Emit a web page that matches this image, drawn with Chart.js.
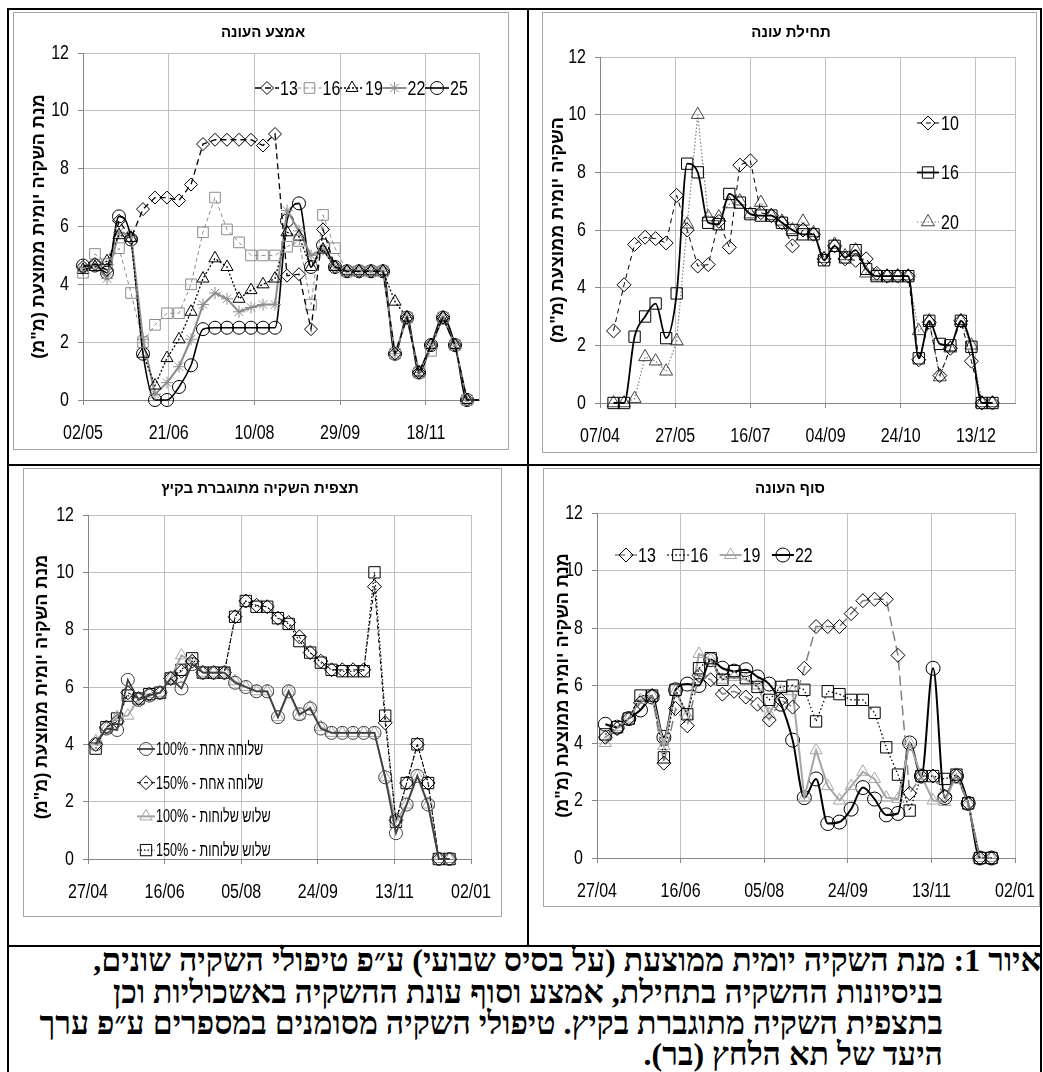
<!DOCTYPE html>
<html lang="he">
<head>
<meta charset="utf-8">
<title>מנת השקיה יומית ממוצעת</title>
<script src="https://cdn.jsdelivr.net/npm/chart.js@4.4.1/dist/chart.umd.min.js"></script>
<style>
  body { margin: 0; background: #fff; width: 1043px; height: 1072px; position: relative; overflow: hidden; }
  .rule { position: absolute; background: #000; }
  canvas { position: absolute; }
  .cap {
    position: absolute; direction: rtl; white-space: nowrap; color: #000;
    font: bold 32px "Liberation Serif", "DejaVu Sans", serif; line-height: 31px; height: 31px;
  }
</style>
</head>
<body>
<div class="rule" style="left:7px;top:8px;width:1035px;height:2px"></div>
<div class="rule" style="left:7px;top:8px;width:2px;height:1070px"></div>
<div class="rule" style="left:1040px;top:8px;width:2px;height:1070px"></div>
<div class="rule" style="left:527px;top:8px;width:2px;height:939px"></div>
<div class="rule" style="left:7px;top:464px;width:1035px;height:2px"></div>
<div class="rule" style="left:7px;top:945px;width:1035px;height:2px"></div>

<canvas id="midChart" width="496" height="438" dir="rtl" style="left:13px;top:12px"></canvas>
<canvas id="earlyChart" width="495" height="441" dir="rtl" style="left:542px;top:12px"></canvas>
<canvas id="summerChart" width="479" height="449" dir="rtl" style="left:23px;top:468px"></canvas>
<canvas id="lateChart" width="497" height="439" dir="rtl" style="left:543px;top:468px"></canvas>

<div class="cap" style="right:2px;top:945px">איור 1: מנת השקיה יומית ממוצעת (על בסיס שבועי) ע״פ טיפולי השקיה שונים,</div>
<div class="cap" style="right:100px;top:977px">בניסיונות ההשקיה בתחילת, אמצע וסוף עונת ההשקיה באשכוליות וכן</div>
<div class="cap" style="right:100px;top:1008px">בתצפית השקיה מתוגברת בקיץ. טיפולי השקיה מסומנים במספרים ע״פ ערך</div>
<div class="cap" style="right:100px;top:1039px">היעד של תא הלחץ (בר).</div>

<script>
// ---- data: x = day of year, one point per week ----

// אמצע העונה
const midStartDay = 122;
const midTickDays = [122, 172, 222, 272, 322];
const midTickLabels = ['02/05', '21/06', '10/08', '29/09', '18/11'];
const mid13 = [4.6, 4.7, 4.5, 6.2, 5.6, 6.6, 7.0, 7.0, 6.9, 7.45, 8.85, 9.0, 9.0, 9.0, 9.0, 8.8, 9.2,
  4.3, 4.35, 2.45, 5.9, 4.6, 4.45, 4.45, 4.45, 4.45, 1.6, 2.85, 0.95, 1.9, 2.85, 1.9, 0, 0];
const mid16 = [4.4, 5.05, 4.7, 5.25, 3.7, 2.0, 2.6, 3.0, 3.0, 4.0, 5.8, 7.0, 5.9, 5.45, 5.0, 5.0, 5.0,
  5.3, 5.5, 3.3, 6.4, 5.25, 4.45, 4.45, 4.45, 4.45, 1.6, 2.85, 0.95, 1.7, 2.85, 1.9, 0, 0];
const mid19 = [4.5, 4.6, 4.8, 5.7, 5.6, 1.6, 0.5, 1.45, 2.1, 3.05, 4.2, 4.9, 4.6, 3.5, 3.8, 4.0, 4.2,
  5.8, 5.65, 4.6, 5.2, 4.6, 4.45, 4.45, 4.45, 4.45, 3.4, 2.85, 0.95, 1.9, 2.85, 1.9, 0, 0];
const mid22 = [4.5, 4.7, 4.2, 5.8, 5.7, 2.1, 0.2, 0.6, 1.15, 2.1, 3.3, 3.7, 3.5, 3.05, 3.2, 3.3, 3.3,
  6.55, 5.85, 5.0, 5.2, 4.6, 4.45, 4.45, 4.45, 4.45, 1.6, 2.85, 0.95, 1.9, 2.85, 1.9, 0, 0];
const mid25 = [4.65, 4.65, 4.4, 6.35, 5.55, 1.6, 0, 0, 0.45, 1.2, 2.45, 2.5, 2.5, 2.5, 2.5, 2.5, 2.5,
  6.2, 6.8, 4.6, 5.35, 4.6, 4.45, 4.45, 4.45, 4.45, 1.6, 2.85, 0.95, 1.9, 2.85, 1.9, 0, 0];

// תחילת עונה
const earlyStartDay = 106;
const earlyTickDays = [97, 147, 197, 247, 297, 347];
const earlyTickLabels = ['07/04', '27/05', '16/07', '04/09', '24/10', '13/12'];
const early10 = [2.5, 4.1, 5.5, 5.75, 5.7, 5.55, 7.2, 6.0, 4.75, 4.8, 6.3, 5.4, 8.25, 8.4, 6.6, 6.5, 6.25,
  5.45, 6.0, 5.85, 5.0, 5.45, 5.0, 4.95, 5.0, 4.5, 4.4, 4.4, 4.4, 1.5, 2.8, 0.95, 1.9, 2.85, 1.45, 0, 0];
const early16 = [0, 0, 2.3, 3.0, 3.45, 2.25, 3.8, 8.3, 8.0, 6.25, 6.2, 7.25, 6.95, 6.55, 6.5, 6.5, 6.25,
  6.0, 5.85, 5.85, 4.95, 5.45, 5.05, 5.3, 4.65, 4.4, 4.4, 4.4, 4.4, 1.55, 2.85, 2.05, 2.0, 2.85, 1.95, 0, 0];
const early20 = [0, 0, 0.15, 1.6, 1.45, 1.1, 2.15, 6.2, 10.0, 6.45, 6.45, 6.9, 7.0, 6.55, 6.95, 6.5, 6.3,
  6.0, 6.3, 5.9, 5.0, 5.5, 5.1, 5.3, 4.5, 4.4, 4.4, 4.4, 4.4, 2.5, 2.85, 0.9, 1.9, 2.85, 2.0, 0, 0];

// תצפית השקיה מתוגברת בקיץ
const summerStartDay = 122;
const lateTickDays = [117, 167, 217, 267, 317, 367];
const lateTickLabels = ['27/04', '16/06', '05/08', '24/09', '13/11', '02/01'];
const summerOne100 = [4.0, 4.55, 4.5, 6.25, 5.55, 5.7, 5.8, 6.3, 5.95, 6.8, 6.5, 6.5, 6.5, 6.15, 6.0, 5.85, 5.85,
  4.95, 5.85, 5.05, 5.25, 4.55, 4.4, 4.4, 4.4, 4.4, 4.4, 2.85, 0.9, 1.9, 2.9, 1.9, 0, 0];
const summerOne150 = [4.0, 4.6, 4.8, 5.8, 5.6, 5.75, 5.8, 6.3, 6.55, 6.9, 6.5, 6.5, 6.5, 8.45, 9.0, 8.85, 8.8,
  8.4, 8.25, 7.75, 7.2, 6.9, 6.6, 6.6, 6.6, 6.6, 9.5, 4.75, 1.35, 2.65, 4.0, 2.65, 0, 0];
const summerThree100 = [4.1, 4.55, 4.95, 5.0, 5.6, 5.75, 5.8, 6.3, 7.1, 6.9, 6.5, 6.5, 6.5, 6.2, 6.0, 5.85, 5.85,
  4.95, 5.85, 5.0, 5.3, 4.6, 4.4, 4.4, 4.4, 4.4, 4.4, 2.85, 1.3, 1.9, 2.9, 1.9, 0, 0];
const summerThree150 = [3.85, 4.6, 4.9, 5.7, 5.6, 5.75, 5.8, 6.3, 6.6, 7.0, 6.5, 6.5, 6.5, 8.45, 9.0, 8.8, 8.8,
  8.4, 8.2, 7.6, 7.2, 6.85, 6.6, 6.55, 6.55, 6.55, 10.0, 5.0, 1.3, 2.65, 4.0, 2.65, 0, 0];

// סוף העונה
const lateStartDay = 122;
const late13 = [4.2, 4.5, 4.85, 5.4, 5.65, 3.3, 5.2, 4.6, 6.35, 6.2, 5.7, 5.8, 5.6, 5.35, 4.8, 5.5, 5.25,
  6.6, 8.05, 8.05, 8.05, 8.5, 8.95, 9.0, 9.0, 7.05, 2.25, 2.85, 2.85, 2.15, 2.85, 1.9, 0, 0];
const late16 = [4.3, 4.55, 4.85, 5.65, 5.65, 3.5, 5.85, 5.0, 6.6, 6.95, 6.2, 6.5, 6.25, 5.95, 5.5, 5.95, 6.0,
  5.85, 4.75, 5.8, 5.7, 5.5, 5.5, 5.05, 3.85, 2.9, 1.65, 2.85, 2.85, 2.75, 2.9, 1.9, 0, 0];
const late19 = [4.0, 4.55, 4.85, 5.5, 5.65, 3.9, 5.8, 4.95, 7.1, 6.9, 6.2, 6.3, 6.2, 6.0, 5.0, 5.8, 5.8,
  2.1, 3.75, 2.5, 2.0, 2.5, 3.0, 2.75, 2.1, 2.05, 4.0, 2.85, 2.0, 1.95, 2.9, 1.9, 0, 0];
const late22 = [4.65, 4.55, 4.85, 5.15, 5.6, 4.2, 5.85, 6.05, 6.0, 6.9, 6.6, 6.5, 6.55, 6.3, 6.05, 5.35, 4.1,
  2.1, 2.75, 1.2, 1.25, 1.7, 2.45, 2.05, 1.5, 1.55, 4.0, 2.85, 6.6, 2.1, 2.85, 1.9, 0, 0];

const yTitle = 'מנת השקיה יומית ממוצעת (מ"מ)';
const plainFont = '"Liberation Sans", Arial, sans-serif';
const boldFont = '"Liberation Sans", "DejaVu Sans", Arial, sans-serif';
const NARROW = 0.8; // squeeze to look like Arial Narrow

function narrowText(ctx, text, x, y, align, squeeze) {
  ctx.save();
  ctx.translate(x, y);
  ctx.scale(squeeze, 1);
  ctx.textAlign = align;
  ctx.fillText(text, 0, 0);
  ctx.restore();
}

// draws the chart frame, plot border, tick labels, panel title and the in-plot legend
const panelDecor = {
  id: 'panelDecor',
  beforeDraw(chart) {
    const { ctx, width, height, chartArea: a } = chart;
    ctx.save();
    ctx.lineWidth = 1;
    ctx.strokeStyle = '#a6a6a6';
    ctx.strokeRect(0.5, 0.5, width - 1, height - 1);
    ctx.strokeStyle = '#bfbfbf';
    ctx.strokeRect(Math.round(a.left) + 0.5, Math.round(a.top) + 0.5, a.right - a.left, a.bottom - a.top);
    ctx.restore();
  },
  afterDraw(chart, args, opts) {
    const { ctx, chartArea: a } = chart;
    const xs = chart.scales.x;
    const ys = chart.scales.y;
    ctx.save();
    ctx.fillStyle = '#000';
    ctx.textBaseline = 'middle';

    ctx.font = '20px ' + plainFont;
    xs.ticks.forEach((t) => {
      narrowText(ctx, opts.tickLabels[opts.tickDays.indexOf(t.value)], xs.getPixelForValue(t.value), a.bottom + 33, 'center', NARROW);
    });
    ys.ticks.forEach((t) => {
      narrowText(ctx, String(t.value), a.left - 14, ys.getPixelForValue(t.value), 'right', NARROW);
    });

    ctx.font = 'bold 15px ' + boldFont;
    ctx.textAlign = 'center';
    ctx.fillText(opts.title, opts.titleX, opts.titleY);

    const lg = opts.legend;
    chart.data.datasets.forEach((ds, i) => {
      const mx = lg.x + lg.dx * i;
      const my = lg.y + lg.dy * i;
      ctx.strokeStyle = ds.borderColor;
      ctx.lineWidth = ds.borderWidth;
      ctx.setLineDash(ds.borderDash);
      ctx.beginPath();
      ctx.moveTo(mx - lg.len / 2, my);
      ctx.lineTo(mx + lg.len / 2, my);
      ctx.stroke();
      ctx.setLineDash([]);
      ctx.strokeStyle = ds.pointBorderColor;
      ctx.fillStyle = 'rgba(0,0,0,0)';
      ctx.lineWidth = 1;
      Chart.helpers.drawPoint(ctx, { pointStyle: ds.pointStyle, radius: ds.markerSize, borderWidth: 1, rotation: 0 }, mx, my);
      ctx.fillStyle = '#000';
      ctx.font = lg.font;
      narrowText(ctx, ds.label, mx + lg.len / 2 + lg.gap, my + 1, 'left', lg.squeeze);
    });
    ctx.restore();
  }
};

function series(label, startDay, values, style, hideLast) {
  return {
    label,
    data: values.map((v, i) => ({ x: startDay + 7 * i, y: v })),
    borderColor: style.color,
    borderWidth: style.width,
    borderDash: style.dash || [],
    pointStyle: style.marker,
    markerSize: style.r,
    pointRadius: (c) => (hideLast && c.dataIndex === values.length - 1 ? 0 : style.r),
    pointBorderColor: style.markerColor || style.color,
    pointBackgroundColor: 'rgba(0,0,0,0)',
    pointBorderWidth: 1,
    cubicInterpolationMode: style.smooth ? 'monotone' : 'default',
    tension: 0,
    clip: { left: 12, top: 12, right: hideLast ? 0 : 12, bottom: 12 }
  };
}

function makeChart(id, cfg) {
  return new Chart(document.getElementById(id), {
    type: 'line',
    data: { datasets: cfg.datasets },
    plugins: [panelDecor],
    options: {
      responsive: false,
      animation: false,
      devicePixelRatio: 1,
      layout: { padding: { top: cfg.plot.top, right: cfg.plot.right, left: 0, bottom: 0 } },
      plugins: {
        legend: { display: false },
        tooltip: { enabled: false },
        panelDecor: {
          title: cfg.title, titleX: cfg.titleX, titleY: 21, legend: cfg.legend,
          tickDays: cfg.tickDays, tickLabels: cfg.tickLabels
        }
      },
      scales: {
        x: {
          type: 'linear',
          min: cfg.xMin,
          max: cfg.xMax,
          afterBuildTicks: (axis) => { axis.ticks = cfg.tickDays.map((v) => ({ value: v })); },
          afterFit: (axis) => { axis.height = cfg.plot.bottom; },
          ticks: { display: false },
          grid: { color: '#bfbfbf', tickColor: '#868686', tickLength: 5 },
          border: { color: '#868686' }
        },
        y: {
          min: 0,
          max: 12,
          afterFit: (axis) => { axis.width = cfg.plot.left; },
          ticks: { stepSize: 2, display: false },
          grid: { color: '#bfbfbf', tickColor: '#868686', tickLength: 5 },
          border: { color: '#868686' },
          title: {
            display: true, text: cfg.yTitle, color: '#000',
            font: { family: boldFont, size: 18, weight: 'bold' },
            padding: { top: cfg.yTitlePad, bottom: 0 }
          }
        }
      }
    }
  });
}

makeChart('midChart', {
  title: 'אמצע העונה', titleX: 250,
  plot: { left: 70, top: 41, right: 30, bottom: 50 },
  xMin: 122, xMax: 353, tickDays: midTickDays, tickLabels: midTickLabels,
  yTitle, yTitlePad: 15,
  legend: { x: 254, y: 76, dx: 42.5, dy: 0, len: 24, gap: 1, font: '20px ' + plainFont, squeeze: NARROW },
  datasets: [
    series('13', midStartDay, mid13, { color: '#000', width: 1.3, dash: [6, 4], marker: 'rectRot', r: 6.5 }, true),
    series('16', midStartDay, mid16, { color: '#8c8c8c', width: 1, dash: [4, 3], marker: 'rect', r: 7.5 }, true),
    series('19', midStartDay, mid19, { color: '#000', width: 1.3, dash: [2, 2], marker: 'triangle', r: 7 }, true),
    series('22', midStartDay, mid22, { color: '#8c8c8c', width: 2, marker: 'star', r: 6 }, true),
    series('25', midStartDay, mid25, { color: '#000', width: 1.6, marker: 'circle', r: 6.5, smooth: true }, true)
  ]
});

makeChart('earlyChart', {
  title: 'תחילת עונה', titleX: 249,
  plot: { left: 58, top: 45, right: 22, bottom: 50 },
  xMin: 97, xMax: 373, tickDays: earlyTickDays, tickLabels: earlyTickLabels,
  yTitle: 'השקיה יומית ממוצעת (מ"מ)', yTitlePad: 5,
  legend: { x: 386, y: 111, dx: 0, dy: 49.5, len: 22, gap: 2, font: '20px ' + plainFont, squeeze: NARROW },
  datasets: [
    series('10', earlyStartDay, early10, { color: '#000', width: 1, dash: [5, 4], marker: 'rectRot', r: 7 }),
    series('16', earlyStartDay, early16, { color: '#000', width: 1.8, marker: 'rect', r: 8, smooth: true }),
    series('20', earlyStartDay, early20, { color: '#7f7f7f', width: 1.2, dash: [1.5, 2], marker: 'triangle', r: 7.5, markerColor: '#444' })
  ]
});

makeChart('summerChart', {
  title: 'תצפית השקיה מתוגברת בקיץ', titleX: 237,
  plot: { left: 65, top: 47, right: 31, bottom: 58 },
  xMin: 117, xMax: 367, tickDays: lateTickDays, tickLabels: lateTickLabels,
  yTitle, yTitlePad: 8,
  legend: { x: 123, y: 281, dx: 0, dy: 33.7, len: 18, gap: 1, font: '18px ' + plainFont, squeeze: 0.7 },
  datasets: [
    series('שלוחה אחת - 100%', summerStartDay, summerOne100, { color: '#404040', width: 1.8, marker: 'circle', r: 6.5 }),
    series('שלוחה אחת - 150%', summerStartDay, summerOne150, { color: '#000', width: 1, dash: [4, 3], marker: 'rectRot', r: 7 }),
    series('שלוש שלוחות - 100%', summerStartDay, summerThree100, { color: '#a6a6a6', width: 2, marker: 'triangle', r: 7 }),
    series('שלוש שלוחות - 150%', summerStartDay, summerThree150, { color: '#000', width: 1.2, dash: [1.5, 2], marker: 'rect', r: 8 })
  ]
});

makeChart('lateChart', {
  title: 'סוף העונה', titleX: 247,
  plot: { left: 54, top: 45, right: 25, bottom: 49 },
  xMin: 117, xMax: 367, tickDays: lateTickDays, tickLabels: lateTickLabels,
  yTitle, yTitlePad: 9,
  legend: { x: 83, y: 87, dx: 52.3, dy: 0, len: 22, gap: 1, font: '20px ' + plainFont, squeeze: NARROW },
  datasets: [
    series('13', lateStartDay, late13, { color: '#808080', width: 1.5, dash: [10, 5], marker: 'rectRot', r: 7, markerColor: '#000' }),
    series('16', lateStartDay, late16, { color: '#000', width: 1.3, dash: [1.5, 2.5], marker: 'rect', r: 8 }),
    series('19', lateStartDay, late19, { color: '#a6a6a6', width: 2, marker: 'triangle', r: 7 }),
    series('22', lateStartDay, late22, { color: '#000', width: 2, marker: 'circle', r: 7, smooth: true })
  ]
});
</script>
</body>
</html>
